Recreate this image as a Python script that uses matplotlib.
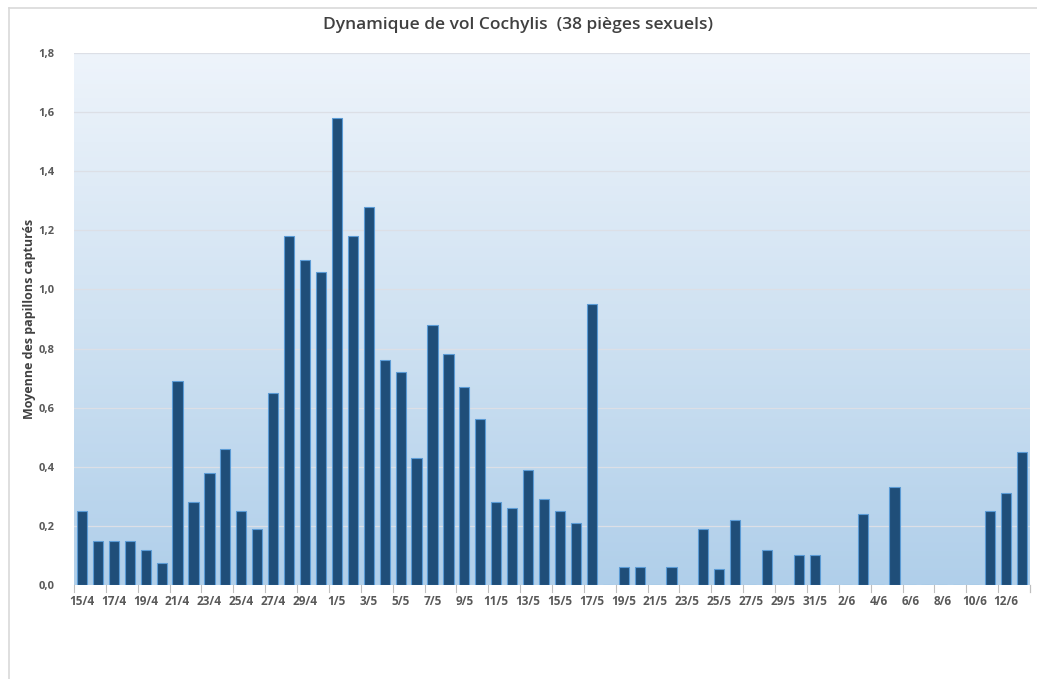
import numpy as np
import matplotlib
matplotlib.use("Agg")
import matplotlib.pyplot as plt
from matplotlib.colors import LinearSegmentedColormap
from matplotlib.lines import Line2D

# ---- data ----
dates = ["15/4", "16/4", "17/4", "18/4", "19/4", "20/4", "21/4", "22/4", "23/4", "24/4",
         "25/4", "26/4", "27/4", "28/4", "29/4", "30/4", "1/5", "2/5", "3/5", "4/5",
         "5/5", "6/5", "7/5", "8/5", "9/5", "10/5", "11/5", "12/5", "13/5", "14/5",
         "15/5", "16/5", "17/5", "18/5", "19/5", "20/5", "21/5", "22/5", "23/5", "24/5",
         "25/5", "26/5", "27/5", "28/5", "29/5", "30/5", "31/5", "1/6", "2/6", "3/6",
         "4/6", "5/6", "6/6", "7/6", "8/6", "9/6", "10/6", "11/6", "12/6", "13/6"]
values = [0.25, 0.15, 0.15, 0.15, 0.12, 0.075, 0.69, 0.28, 0.38, 0.46,
          0.25, 0.19, 0.65, 1.18, 1.10, 1.06, 1.58, 1.18, 1.28, 0.76,
          0.72, 0.43, 0.88, 0.78, 0.67, 0.56, 0.28, 0.26, 0.39, 0.29,
          0.25, 0.21, 0.95, 0.0, 0.06, 0.06, 0.0, 0.06, 0.0, 0.19,
          0.055, 0.22, 0.0, 0.12, 0.0, 0.10, 0.10, 0.0, 0.0, 0.24,
          0.0, 0.33, 0.0, 0.0, 0.0, 0.0, 0.0, 0.25, 0.31, 0.45]
yticks = [0.0, 0.2, 0.4, 0.6, 0.8, 1.0, 1.2, 1.4, 1.6, 1.8]
title = "Dynamique de vol Cochylis  (38 pièges sexuels)"
ylabel = "Moyenne des papillons capturés"

W, H = 1037, 679
fig = plt.figure(figsize=(W / 100, H / 100), dpi=100)
fig.patch.set_facecolor("white")

# outer chart border
fig.add_artist(Line2D([9 / W, 9 / W], [0, 1 - 8 / H], transform=fig.transFigure,
                      color="#d9d9d9", lw=1.2))
fig.add_artist(Line2D([9 / W, 1.0], [1 - 8 / H, 1 - 8 / H], transform=fig.transFigure,
                      color="#d9d9d9", lw=1.2))

left, right, top, bottom = 74, 1030, 53, 585
ax = fig.add_axes([left / W, 1 - bottom / H, (right - left) / W, (bottom - top) / H])

n = len(dates)
x = np.arange(n)
ax.set_xlim(-0.5, n - 0.5)
ax.set_ylim(0, 1.8)

# gradient background
cmap = LinearSegmentedColormap.from_list("bg", ["#b0cfea", "#d0e2f2", "#eef4fb"])
grad = np.linspace(0, 1, 256).reshape(-1, 1)
ax.imshow(grad, aspect="auto", cmap=cmap, origin="lower",
          extent=[-0.5, n - 0.5, 0, 1.8], zorder=0)

for t in yticks[1:]:
    ax.axhline(t, color="#dcdfe6", lw=0.9, zorder=1)

ax.bar(x, values, width=0.64, color="#1f4e79", edgecolor="#5b9bd5", linewidth=0.8, zorder=3)

for s in ax.spines.values():
    s.set_visible(False)

ax.set_yticks(yticks)
ax.set_yticklabels([f"{t:.1f}".replace(".", ",") for t in yticks])
ax.tick_params(axis="y", length=0, pad=14, labelsize=8, labelcolor="#595959")

ax.set_xticks(x[::2])
ax.set_xticklabels(dates[::2])
ax.tick_params(axis="x", length=0, pad=7, labelsize=8.5, labelcolor="#595959")
for lab in ax.get_xticklabels() + ax.get_yticklabels():
    lab.set_fontweight("bold")
    lab.set_family("Open Sans")

# boundary tick marks every two categories
for b in np.arange(-0.5, n, 2):
    ax.plot([b, b], [0, -0.025], color="#bfbfbf", lw=0.8, clip_on=False, zorder=2)
ax.plot([n - 0.5, n - 0.5], [0, -0.025], color="#bfbfbf", lw=0.8, clip_on=False)

ax.set_ylabel(ylabel, fontsize=9, color="#404040", fontweight="bold",
              family="Open Sans", labelpad=2)

fig.text(0.5, 1 - 25 / H, title, ha="center", va="center", fontsize=12.5,
         color="#404040", family="Open Sans", fontweight="semibold")

fig.savefig("out.png", dpi=100, facecolor="white")
